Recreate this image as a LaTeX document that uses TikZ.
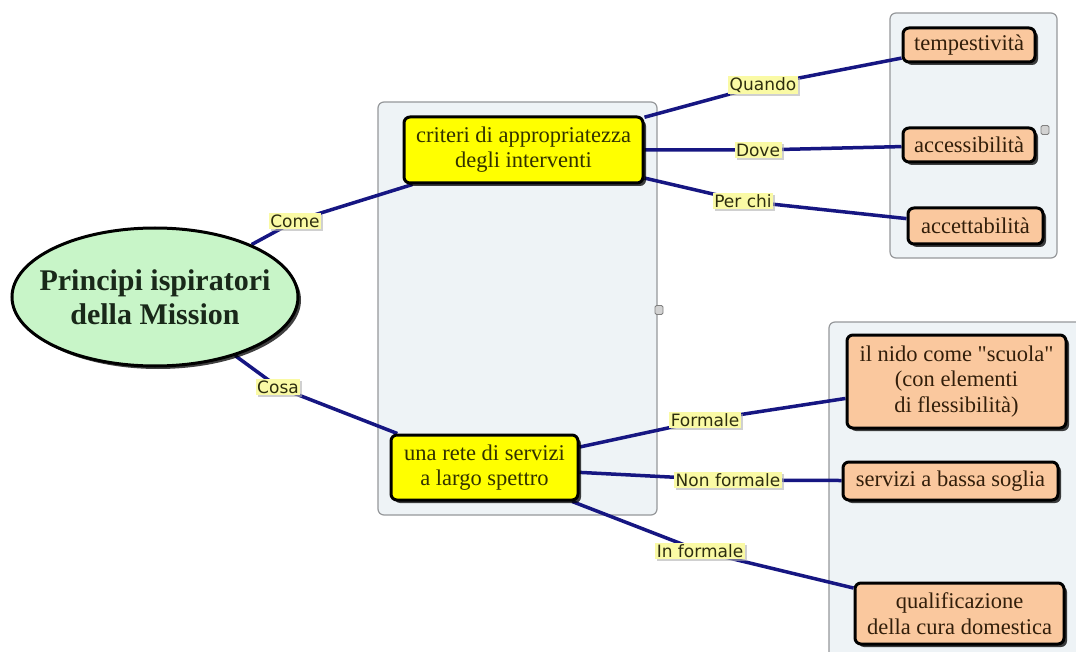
\documentclass[tikz,border=0pt]{standalone}
\usepackage{fontspec}
\setmainfont{Liberation Serif}
\newfontfamily\lblfont{DejaVu Sans}
\usetikzlibrary{shadows,shapes.geometric}

\definecolor{mint}{RGB}{200,245,200}
\definecolor{panel}{RGB}{238,243,246}
\definecolor{panelline}{RGB}{150,152,155}
\definecolor{conceptY}{RGB}{255,255,0}
\definecolor{conceptO}{RGB}{250,200,158}
\definecolor{linkline}{RGB}{22,22,130}
\definecolor{lblfill}{RGB}{250,250,165}
\definecolor{lbltext}{RGB}{45,45,15}
\definecolor{txtR}{RGB}{25,40,25}
\definecolor{txtY}{RGB}{50,50,0}
\definecolor{txtO}{RGB}{50,30,10}

\pgfdeclarelayer{panels}
\pgfdeclarelayer{links}
\pgfsetlayers{panels,links,main}

\tikzset{
  panelbox/.style={draw=panelline, line width=1.2pt, fill=panel, rounded corners=6pt,
    inner sep=0pt},
  rootnode/.style={ellipse, draw=black, line width=3pt, fill=mint,
    inner xsep=-25pt, inner ysep=0pt,
    minimum width=286pt, minimum height=138pt, align=center,
    font=\bfseries\fontsize{30}{34}\selectfont, text=txtR,
    drop shadow={shadow xshift=3pt, shadow yshift=-3pt, fill=black, opacity=0.75}},
  ybox/.style={rectangle, rounded corners=6pt, draw=black, line width=3pt, fill=conceptY,
    inner sep=0pt, align=center, text=txtY, font=\fontsize{22.5}{25}\selectfont,
    drop shadow={shadow xshift=3pt, shadow yshift=-3pt, fill=black, opacity=0.75}},
  obox/.style={rectangle, rounded corners=6pt, draw=black, line width=3pt, fill=conceptO,
    inner sep=0pt, align=center, text=txtO, font=\fontsize{22.5}{25.5}\selectfont,
    drop shadow={shadow xshift=3pt, shadow yshift=-3pt, fill=black, opacity=0.75}},
  linklbl/.style={fill=lblfill, inner sep=1.5pt, text=lbltext,
    font=\lblfont\fontsize{17}{18}\selectfont,
    drop shadow={shadow xshift=2pt, shadow yshift=-2pt, fill=black!30, opacity=0.6}},
  link/.style={draw=linkline, line width=3.5pt},
  foldicon/.style={draw=gray, fill=gray!35, line width=0.8pt, rounded corners=1.5pt,
    minimum width=8pt, minimum height=9pt, inner sep=0pt},
}

\begin{document}
\begin{tikzpicture}[x=1pt,y=-1pt]
\useasboundingbox (0,0) rectangle (1076,652);

% grouping panels
\begin{pgfonlayer}{panels}
\fill[white] (0,0) rectangle (1076,652);
\node[panelbox, minimum width=279pt, minimum height=413pt] (p1) at (517.5,308.5) {};
\node[panelbox, minimum width=167pt, minimum height=245pt] (p2) at (973.5,135.5) {};
\node[panelbox, minimum width=260pt, minimum height=340pt] (p3) at (959,492) {};
\node[foldicon] (f1) at (659,310) {};
\node[foldicon] (f2) at (1045,130) {};
\end{pgfonlayer}

% concepts
\node[rootnode] (root) at (155,297) {Principi ispiratori\\della Mission};

\node[ybox, minimum width=239pt, minimum height=66pt] (crit) at (523.5,150)
  {criteri di appropriatezza\\degli interventi};
\node[ybox, minimum width=187pt, minimum height=65pt] (rete) at (484.5,467.5)
  {una rete di servizi\\a largo spettro};

\node[obox, minimum width=132pt, minimum height=34pt] (temp) at (969,45) {tempestività};
\node[obox, minimum width=132pt, minimum height=34pt] (acce) at (969,145) {accessibilità};
\node[obox, minimum width=135pt, minimum height=36pt] (acct) at (975.5,226) {accettabilità};

\node[obox, minimum width=219pt, minimum height=93pt] (nido) at (956.5,381.5)
  {il nido come \textquotedbl scuola\textquotedbl\\(con elementi\\di flessibilità)};
\node[obox, minimum width=215pt, minimum height=38pt] (soglia) at (950.5,481)
  {servizi a bassa soglia};
\node[obox, minimum width=209pt, minimum height=61pt] (cura) at (959.5,613.5)
  {qualificazione\\della cura domestica};

% link labels
\node[linklbl] (come) at (295,221) {Come};
\node[linklbl] (cosa) at (278,387) {Cosa};
\node[linklbl] (quando) at (763,85) {Quando};
\node[linklbl] (dove) at (758,150) {Dove};
\node[linklbl] (perchi) at (743,201) {Per chi};
\node[linklbl] (formale) at (705,420) {Formale};
\node[linklbl] (nonformale) at (728,480) {Non formale};
\node[linklbl] (informale) at (700,551) {In formale};

% connectors, beneath the concepts and labels
\begin{pgfonlayer}{links}
\draw[link] (root) -- (come.center) -- (crit);
\draw[link] (root) -- (cosa.center) -- (rete);
\draw[link] (crit) -- (quando.center) -- (temp);
\draw[link] (crit) -- (dove.center) -- (acce);
\draw[link] (crit) -- (perchi.center) -- (acct);
\draw[link] (rete) -- (formale.center) -- (nido);
\draw[link] (rete) -- (nonformale.center) -- (soglia);
\draw[link] (rete) -- (informale.center) -- (cura);
\end{pgfonlayer}
\end{tikzpicture}
\end{document}
